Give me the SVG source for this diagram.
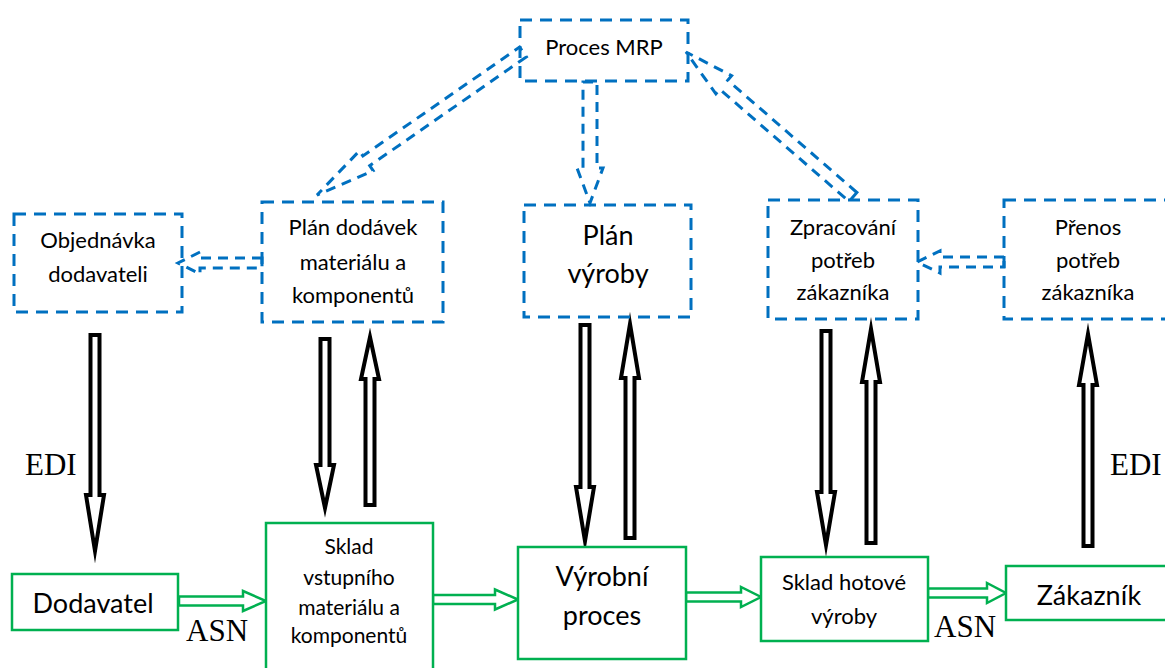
<svg xmlns="http://www.w3.org/2000/svg" width="1165" height="668" viewBox="0 0 1165 668">
<style>
.blue{fill:none;stroke:#0070C0;stroke-width:3;stroke-dasharray:12 8}
.bluearrow{fill:#fff;stroke:#0070C0;stroke-width:3;stroke-dasharray:10 7}
.green{fill:#fff;stroke:#00B050;stroke-width:2.5}
.garrow{fill:#fff;stroke:#00B050;stroke-width:2.5;stroke-miterlimit:10}
.barrow{fill:#fff;stroke:#000;stroke-width:4;stroke-miterlimit:12}
.t{font-family:Lato,"Open Sans",sans-serif;fill:#000;text-anchor:middle}
.s{font-size:21px}
.m{font-size:22px}
.l{font-size:27px}
.tnr{font-family:"Liberation Serif","Times New Roman",serif;font-size:31px;fill:#000}
</style>
<rect width="1165" height="668" fill="#fff"/>
<g id="connectors">
<polygon class="bluearrow" points="526.4,56.9 369.7,165.7 373.1,170.7 317,195 359.4,150.9 362.9,155.9 519.6,47.1"/>
<polygon class="bluearrow" points="856.9,192.5 727.7,80.3 731.6,75.7 686,52 715.9,93.8 719.8,89.3 849.1,201.5"/>
<polygon class="bluearrow" points="583,82 597,82 597,168 603,168 590,203 577,168 583,168"/>
<polygon class="bluearrow" points="262,258 200,258 200,252 178,263 200,274 200,268 262,268"/>
<polygon class="bluearrow" points="1004,257 940,257 940,251 917,262 940,273 940,267 1004,267"/>
<polygon class="barrow" points="90.5,335 99.5,335 99.5,495 104,495 95,551 86,495 90.5,495"/>
<polygon class="barrow" points="320.5,339 329.5,339 329.5,465 334,465 325,508 316,465 320.5,465"/>
<polygon class="barrow" points="365.5,505 374.5,505 374.5,379 379,379 370,337 361,379 365.5,379"/>
<polygon class="barrow" points="580.5,325 589.5,325 589.5,487 594,487 585,541 576,487 580.5,487"/>
<polygon class="barrow" points="625.5,538 634.5,538 634.5,378 639,378 630,324 621,378 625.5,378"/>
<polygon class="barrow" points="821.5,331 830.5,331 830.5,492 835,492 826,545 817,492 821.5,492"/>
<polygon class="barrow" points="866.5,543 875.5,543 875.5,382 880,382 871,329 862,382 866.5,382"/>
<polygon class="barrow" points="1083.5,546 1092.5,546 1092.5,385 1097,385 1088,334 1079,385 1083.5,385"/>
<polygon class="garrow" points="179,596.5 243,596.5 243,591 266,601 243,611 243,605.5 179,605.5"/>
<polygon class="garrow" points="433,595 495,595 495,589.5 518,599.5 495,609.5 495,604 433,604"/>
<polygon class="garrow" points="686,592.5 741,592.5 741,587 761,597 741,607 741,601.5 686,601.5"/>
<polygon class="garrow" points="928,588.5 987,588.5 987,583 1006,593 987,603 987,597.5 928,597.5"/>
<text class="tnr" x="25" y="475">EDI</text>
<text class="tnr" x="1110" y="475">EDI</text>
<text class="tnr" x="186" y="641">ASN</text>
<text class="tnr" x="934" y="637">ASN</text>
</g>
<g id="proces-mrp">
<rect class="blue" x="520" y="20" width="168" height="61"/>
<text class="t m" x="604" y="55">Proces MRP</text>
</g>
<g id="objednavka">
<rect class="blue" x="14" y="214" width="168" height="98"/>
<text class="t m" x="98" y="248">Objednávka</text>
<text class="t m" x="98" y="282">dodavateli</text>
</g>
<g id="plan-dodavek">
<rect class="blue" x="262" y="202" width="181" height="120"/>
<text class="t m" x="353" y="235">Plán dodávek</text>
<text class="t m" x="353" y="270">materiálu a</text>
<text class="t m" x="353" y="303">komponentů</text>
</g>
<g id="plan-vyroby">
<rect class="blue" x="524" y="205" width="167" height="112"/>
<text class="t l" x="608" y="245">Plán</text>
<text class="t l" x="608" y="283">výroby</text>
</g>
<g id="zpracovani">
<rect class="blue" x="768" y="200" width="150" height="119"/>
<text class="t m" x="843" y="235">Zpracování</text>
<text class="t m" x="843" y="268">potřeb</text>
<text class="t m" x="843" y="300">zákazníka</text>
</g>
<g id="prenos">
<rect class="blue" x="1004" y="200" width="175" height="119"/>
<text class="t m" x="1088" y="235">Přenos</text>
<text class="t m" x="1088" y="268">potřeb</text>
<text class="t m" x="1088" y="300">zákazníka</text>
</g>
<g id="dodavatel">
<rect class="green" x="12" y="574" width="166" height="56"/>
<text class="t l" x="93" y="613">Dodavatel</text>
</g>
<g id="sklad-vstup">
<rect class="green" x="266" y="523" width="167" height="160"/>
<text class="t s" x="349" y="554">Sklad</text>
<text class="t s" x="349" y="585">vstupního</text>
<text class="t s" x="349" y="615">materiálu a</text>
<text class="t s" x="349" y="643">komponentů</text>
</g>
<g id="vyrobni-proces">
<rect class="green" x="518" y="547" width="168" height="112"/>
<text class="t l" x="602" y="586">Výrobní</text>
<text class="t l" x="602" y="625">proces</text>
</g>
<g id="sklad-hotove">
<rect class="green" x="761" y="557" width="167" height="84"/>
<text class="t m" x="844" y="590">Sklad hotové</text>
<text class="t m" x="844" y="624">výroby</text>
</g>
<g id="zakaznik">
<rect class="green" x="1006" y="566" width="170" height="54"/>
<text class="t l" x="1089" y="605">Zákazník</text>
</g>
</svg>
